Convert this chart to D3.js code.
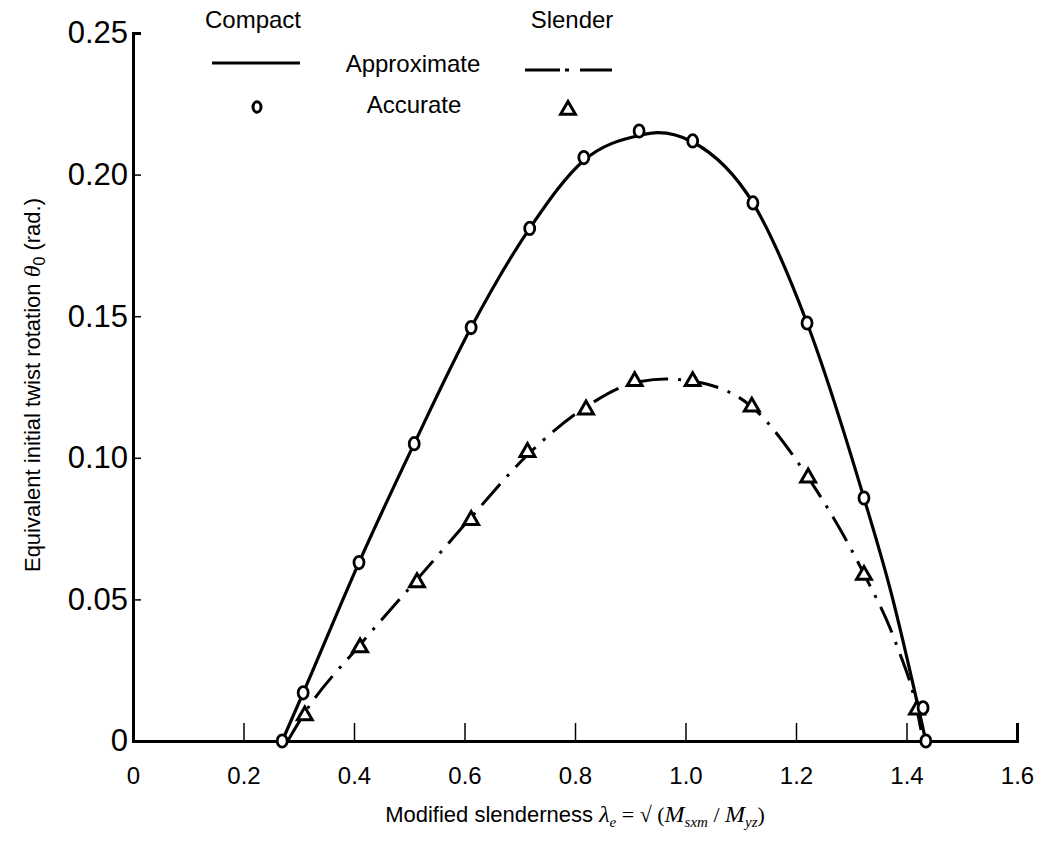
<!DOCTYPE html>
<html>
<head>
<meta charset="utf-8">
<script src="https://cdn.jsdelivr.net/npm/d3@7"></script>
<style>
  body { margin: 0; background: #fff; }
  svg { display: block; }
  text { font-family: "Liberation Sans", Arial, sans-serif; fill: #000; }
  .math { font-family: "Liberation Serif", "Times New Roman", serif; font-style: italic; }
</style>
</head>
<body>
<div id="chart"></div>
<script>
// 軸の目盛
var xTickValues = [0, 0.2, 0.4, 0.6, 0.8, 1.0, 1.2, 1.4, 1.6];
var xTickLabels = ["0", "0.2", "0.4", "0.6", "0.8", "1.0", "1.2", "1.4", "1.6"];
var yTickValues = [0, 0.05, 0.10, 0.15, 0.20, 0.25];
var yTickLabels = ["0", "0.05", "0.10", "0.15", "0.20", "0.25"];

// Compact - Accurate (circles)
var compactAccX = [0.270, 0.308, 0.409, 0.509, 0.612, 0.718, 0.816, 0.916, 1.013, 1.122, 1.220, 1.323, 1.430, 1.435];
var compactAccY = [0, 0.017, 0.063, 0.105, 0.146, 0.181, 0.206, 0.2154, 0.2119, 0.190, 0.1476, 0.0858, 0.0117, 0];

// Slender - Accurate (triangles)
var slenderAccX = [0.311, 0.411, 0.514, 0.612, 0.714, 0.820, 0.908, 1.013, 1.120, 1.222, 1.323, 1.419];
var slenderAccY = [0.009, 0.033, 0.056, 0.078, 0.102, 0.117, 0.127, 0.127, 0.118, 0.093, 0.0586, 0.011];

// Compact - Approximate (solid)
var compactApproxX = [0.270, 0.308, 0.409, 0.509, 0.612, 0.718, 0.816, 0.916, 0.950, 1.013, 1.122, 1.220, 1.323, 1.370, 1.435];
var compactApproxY = [0, 0.017, 0.063, 0.105, 0.146, 0.181, 0.205, 0.2138, 0.2148, 0.2115, 0.190, 0.1476, 0.0858, 0.054, 0];

// Slender - Approximate (dash-dot)
var slenderApproxX = [0.280, 0.311, 0.411, 0.514, 0.612, 0.714, 0.820, 0.908, 0.965, 1.013, 1.120, 1.222, 1.323, 1.380, 1.419, 1.430];
var slenderApproxY = [0, 0.010, 0.034, 0.057, 0.079, 0.101, 0.118, 0.1265, 0.1278, 0.127, 0.118, 0.093, 0.059, 0.035, 0.011, 0];

var width = 1061, height = 844;
var margin = { left: 133, right: 44, top: 33, bottom: 103 };

var svg = d3.select("#chart").append("svg")
    .attr("width", width)
    .attr("height", height);

var x = d3.scaleLinear().domain([0, 1.6]).range([margin.left, width - margin.right]);
var y = d3.scaleLinear().domain([0, 0.25]).range([height - margin.bottom, margin.top]);

function zip(xs, ys) {
    return xs.map(function(v, i) { return [v, ys[i]]; });
}

// x軸
var xAxis = svg.append("g")
    .attr("transform", "translate(0," + y(0) + ")")
    .call(d3.axisBottom(x)
        .tickValues(xTickValues)
        .tickFormat(function(d, i) { return xTickLabels[i]; })
        .tickSizeInner(-18)
        .tickSizeOuter(-18)
        .tickPadding(26));
xAxis.select(".domain").attr("stroke-width", 3).attr("stroke", "#000");
xAxis.selectAll(".tick line").attr("stroke-width", 1.5);
xAxis.selectAll(".tick text")
    .attr("font-size", 24)
    .attr("font-family", "Liberation Sans, Arial, sans-serif");

// y軸
var yAxis = svg.append("g")
    .attr("transform", "translate(" + x(0) + ",0)")
    .call(d3.axisLeft(y)
        .tickValues(yTickValues)
        .tickFormat(function(d, i) { return yTickLabels[i]; })
        .tickSizeInner(-8)
        .tickSizeOuter(-8)
        .tickPadding(5));
yAxis.select(".domain").attr("stroke-width", 3).attr("stroke", "#000");
yAxis.selectAll(".tick line").attr("stroke-width", 1.5);
yAxis.selectAll(".tick text")
    .attr("font-size", 31)
    .attr("font-family", "DejaVu Sans, sans-serif");

// 曲線
var line = d3.line()
    .x(function(d) { return x(d[0]); })
    .y(function(d) { return y(d[1]); })
    .curve(d3.curveMonotoneX);

svg.append("path")
    .datum(zip(compactApproxX, compactApproxY))
    .attr("fill", "none")
    .attr("stroke", "#000")
    .attr("stroke-width", 3.2)
    .attr("d", line);

svg.append("path")
    .datum(zip(slenderApproxX, slenderApproxY))
    .attr("fill", "none")
    .attr("stroke", "#000")
    .attr("stroke-width", 3)
    .attr("stroke-dasharray", "28 10 3 10")
    .attr("d", line);

// マーカー
var tri = d3.symbol().type(d3.symbolTriangle).size(95);

svg.selectAll(".tri")
    .data(zip(slenderAccX, slenderAccY))
    .enter()
    .append("path")
    .attr("class", "tri")
    .attr("transform", function(d) { return "translate(" + x(d[0]) + "," + y(d[1]) + ")"; })
    .attr("d", tri)
    .attr("fill", "#fff")
    .attr("stroke", "#000")
    .attr("stroke-width", 3);

svg.selectAll(".circ")
    .data(zip(compactAccX, compactAccY))
    .enter()
    .append("ellipse")
    .attr("class", "circ")
    .attr("cx", function(d) { return x(d[0]); })
    .attr("cy", function(d) { return y(d[1]); })
    .attr("rx", 5)
    .attr("ry", 6.2)
    .attr("fill", "#fff")
    .attr("stroke", "#000")
    .attr("stroke-width", 2.8);

// 凡例
var legend = svg.append("g");
legend.append("text").attr("x", 253).attr("y", 28).attr("text-anchor", "middle").attr("font-size", 24).text("Compact");
legend.append("text").attr("x", 572).attr("y", 28).attr("text-anchor", "middle").attr("font-size", 24).text("Slender");
legend.append("text").attr("x", 413).attr("y", 72).attr("text-anchor", "middle").attr("font-size", 24).text("Approximate");
legend.append("text").attr("x", 414).attr("y", 113).attr("text-anchor", "middle").attr("font-size", 24).text("Accurate");

legend.append("line")
    .attr("x1", 212).attr("x2", 300).attr("y1", 63).attr("y2", 63)
    .attr("stroke", "#000").attr("stroke-width", 3.2);
legend.append("line")
    .attr("x1", 525).attr("x2", 612).attr("y1", 70).attr("y2", 70)
    .attr("stroke", "#000").attr("stroke-width", 3.2)
    .attr("stroke-dasharray", "35 5 4 11 40");
legend.append("ellipse")
    .attr("cx", 257).attr("cy", 107).attr("rx", 4).attr("ry", 5.2)
    .attr("fill", "#fff").attr("stroke", "#000").attr("stroke-width", 3);
legend.append("path")
    .attr("transform", "translate(568,110)")
    .attr("d", tri)
    .attr("fill", "#fff").attr("stroke", "#000").attr("stroke-width", 3);

// 軸タイトル
var xt = svg.append("text")
    .attr("x", (x(0) + x(1.6)) / 2)
    .attr("y", 822)
    .attr("text-anchor", "middle")
    .attr("font-size", 22);
xt.append("tspan").text("Modified slenderness ");
xt.append("tspan").attr("class", "math").attr("font-size", 24).text("λ");
xt.append("tspan").attr("class", "math").attr("font-size", 15).attr("dy", 5).text("e");
xt.append("tspan").attr("class", "math").attr("font-size", 22).attr("dy", -5).style("font-style", "normal").text(" = √ (");
xt.append("tspan").attr("class", "math").attr("font-size", 24).text("M");
xt.append("tspan").attr("class", "math").attr("font-size", 15).attr("dy", 5).text("sxm");
xt.append("tspan").attr("class", "math").attr("font-size", 22).attr("dy", -5).style("font-style", "normal").text(" / ");
xt.append("tspan").attr("class", "math").attr("font-size", 24).text("M");
xt.append("tspan").attr("class", "math").attr("font-size", 15).attr("dy", 5).text("yz");
xt.append("tspan").attr("class", "math").attr("font-size", 22).attr("dy", -5).style("font-style", "normal").text(")");

var yt = svg.append("text")
    .attr("transform", "translate(40," + 385 + ") rotate(-90)")
    .attr("text-anchor", "middle")
    .attr("font-size", 22);
yt.append("tspan").text("Equivalent initial twist rotation ");
yt.append("tspan").attr("class", "math").attr("font-size", 24).text("θ");
yt.append("tspan").attr("font-size", 16).attr("dy", 5).text("0");
yt.append("tspan").attr("dy", -5).text(" (rad.)");
</script>
</body>
</html>
